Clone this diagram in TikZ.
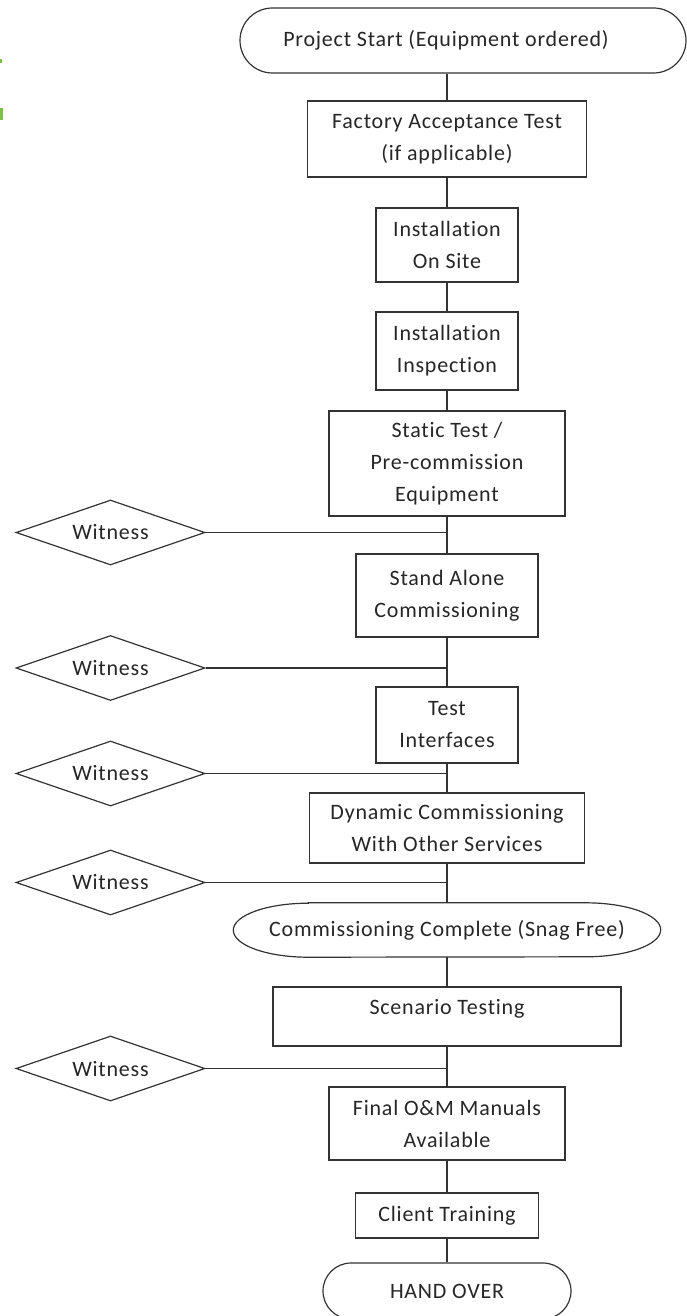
\documentclass[tikz,border=0pt]{standalone}
\usepackage{fontspec}
\setmainfont{Carlito}[Ligatures={NoCommon}, LetterSpace=3.5]
\usepackage{xcolor}
\usepackage{tikz}
\usetikzlibrary{shapes.geometric,shapes.misc}
\definecolor{edgegreen}{HTML}{7DC243}

\begin{document}
\begin{tikzpicture}[x=1pt,y=-1pt,
    every node/.style={font=\fontsize{22}{32}\selectfont, text=black!85},
    stepbox/.style={draw=black!80, line width=1.2pt, rectangle, align=center, inner sep=0pt},
    termbox/.style={draw=black!80, line width=1.2pt, rounded rectangle, inner sep=0pt},
    witness/.style={draw=black!80, line width=1.2pt, diamond, shape aspect=2.9, inner sep=0pt,
                    minimum width=189pt, minimum height=65pt},
    link/.style={draw=black!80, line width=1.2pt}]
                \useasboundingbox (0,0) rectangle (686,1316);

                % Stray marks at the left edge
                \fill[edgegreen] (0,59) rectangle (1.5,63);
                \fill[edgegreen] (0,108) rectangle (2.5,120);

                % Start
                \node[termbox, minimum width=446pt, minimum height=65pt,
                      label={[xshift=-17pt]center:Project Start (Equipment ordered)}] (start) at (463,40.5) {};

                % Steps
                \node[stepbox, minimum width=279pt, minimum height=76pt] (fat) at (447,139) {Factory Acceptance Test\\(if applicable)};
                \node[stepbox, minimum width=142pt, minimum height=74pt] (site) at (447,245) {Installation\\On Site};
                \node[stepbox, minimum width=142pt, minimum height=78pt] (insp) at (447,351) {Installation\\Inspection};
                \node[stepbox, minimum width=236pt, minimum height=105pt] (static) at (447,463.5) {Static Test /\\Pre-commission\\Equipment};
                \node[stepbox, minimum width=182pt, minimum height=83pt] (alone) at (447,595.5) {Stand Alone\\Commissioning};
                \node[stepbox, minimum width=142pt, minimum height=76pt] (iface) at (447,725) {Test\\Interfaces};
                \node[stepbox, minimum width=275pt, minimum height=70pt] (dynamic) at (447,828) {Dynamic Commissioning\\With Other Services};

                % Commissioning complete
                \node[minimum width=427pt, minimum height=54pt, inner sep=0pt] (done) at (447,930) {Commissioning Complete (Snag Free)};
                \draw[link] ([xshift=75pt]done.north west) -- ([xshift=-75pt]done.north east)
                    arc[start angle=-90, end angle=90, x radius=75, y radius=27]
                    -- ([xshift=75pt]done.south west)
                    arc[start angle=90, end angle=270, x radius=75, y radius=27] -- cycle;

                \node[stepbox, minimum width=348pt, minimum height=59pt,
                      label={[yshift=8pt]center:Scenario Testing}] (scenario) at (447,1016.5) {};
                \node[stepbox, minimum width=236pt, minimum height=73pt] (manuals) at (447,1123.5) {Final O\&M Manuals\\Available};
                \node[stepbox, minimum width=183pt, minimum height=45pt] (training) at (447,1215.5) {Client Training};

                % End
                \node[termbox, minimum width=248pt, minimum height=56pt] (handover) at (447,1291) {HAND OVER};

                % Spine
                \draw[link] (fat.north |- start.south) -- (fat.north);
                \foreach \a/\b in {fat/site, site/insp, insp/static, static/alone, alone/iface,
                                   iface/dynamic, dynamic/done, done/scenario, scenario/manuals,
                                   manuals/training, training/handover}
                    \draw[link] (\a.south) -- (\b.north);

                % Witness points
                \node[witness] (w1) at (110.5,532.5) {Witness};
                \node[witness] (w2) at (110.5,668) {Witness};
                \node[witness] (w3) at (110.5,773.5) {Witness};
                \node[witness] (w4) at (110.5,882.5) {Witness};
                \node[witness] (w5) at (110.5,1068.5) {Witness};
                \foreach \w in {w1,w2,w3,w4,w5}
                    \draw[link] (\w.east) -- (\w.east -| fat.south);
            \end{tikzpicture}
\end{document}
